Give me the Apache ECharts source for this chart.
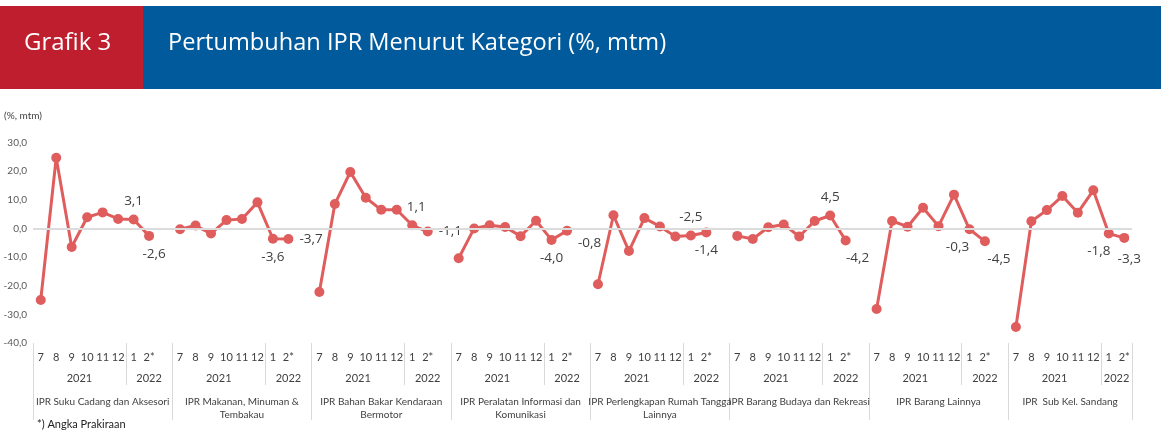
<!DOCTYPE html>
<html>
<head>
<meta charset="utf-8">
<script src="https://cdn.jsdelivr.net/npm/echarts@6/dist/echarts.min.js"></script>
<style>html,body{margin:0;padding:0;background:#fff}#c{width:1171px;height:433px}</style>
</head>
<body>
<div id="c"></div>
<script>
// ---- data ----
const groupNames = [
  'IPR Suku Cadang dan Aksesori',
  'IPR Makanan, Minuman &\nTembakau',
  'IPR Bahan Bakar Kendaraan\nBermotor',
  'IPR Peralatan Informasi dan\nKomunikasi',
  'IPR Perlengkapan Rumah Tangga\nLainnya',
  'IPR Barang Budaya dan Rekreasi',
  'IPR Barang Lainnya',
  'IPR  Sub Kel. Sandang'
];
const monthLabels = ['7','8','9','10','11','12','1','2*'];
const yearLabels = ['2021','2022'];
const g1 = [-25.0, 24.7, -6.5, 3.9, 5.6, 3.3, 3.1, -2.6];
const g2 = [-0.3, 1.0, -1.8, 2.9, 3.3, 9.1, -3.6, -3.7];
const g3 = [-22.2, 8.5, 19.7, 10.7, 6.5, 6.5, 1.1, -1.1];
const g4 = [-10.4, 0.0, 1.1, 0.5, -2.7, 2.7, -4.0, -0.8];
const g5 = [-19.5, 4.6, -7.9, 3.6, 0.7, -2.8, -2.5, -1.4];
const g6 = [-2.6, -3.7, 0.4, 1.4, -2.8, 2.6, 4.5, -4.2];
const g7 = [-28.1, 2.6, 0.6, 7.2, 0.8, 11.8, -0.3, -4.5];
const g8 = [-34.4, 2.5, 6.4, 11.3, 5.5, 13.3, -1.8, -3.3];
const groups = [g1, g2, g3, g4, g5, g6, g7, g8];

// label placement for the two labelled points (Jan, Feb) of each group
const labelPlace = [
  [{position:'top'}, {position:'bottom', offset:[5,0]}],
  [{position:'bottom'}, {position:'right'}],
  [{position:'top', offset:[4,0]}, {position:'right'}],
  [{position:'bottom'}, {position:'right', offset:[0,12]}],
  [{position:'top'}, {position:'bottom'}],
  [{position:'top'}, {position:'bottom', offset:[12,0]}],
  [{position:'bottom', offset:[-12,0]}, {position:'bottom', offset:[14,0]}],
  [{position:'bottom', offset:[-10,0]}, {position:'bottom', offset:[5,3]}]
];

// ---- build ----
const fmt = v => v.toFixed(1).replace('.', ',');
const cats = [];
const seriesData = [];
groups.forEach((g, gi) => {
  g.forEach((v, i) => {
    cats.push(monthLabels[i]);
    const item = {value: v};
    if (i >= 6) {
      const p = labelPlace[gi][i - 6];
      item.label = Object.assign({show: true}, p);
    }
    seriesData.push(item);
  });
  if (gi < groups.length - 1) { cats.push(''); seriesData.push('-'); }
});
const N = cats.length; // 71

const groupTicks = [], groupCenters = {}, yearTicks = [], yearCenters = {};
groups.forEach((g, gi) => {
  const s = gi * 9;
  const e = gi < groups.length - 1 ? s + 9 : N;
  groupTicks.push(s);
  groupCenters[(s + e) / 2] = groupNames[gi];
  yearTicks.push(s + 6);
  yearCenters[s + 3] = yearLabels[0];
  yearCenters[(s + 6 + e) / 2] = yearLabels[1];
});
groupTicks.push(N);

const FONT = '"Open Sans", "Noto Sans", sans-serif';
const NARROW = 'Lato, "Open Sans", sans-serif';
const txt = '#404040';
const gridBox = {left: 33, right: 39, top: 142.5, height: 200.5};

const chart = echarts.init(document.getElementById('c'), null, {renderer: 'canvas'});
chart.setOption({
  animation: false,
  textStyle: {fontFamily: FONT},
  graphic: [
    {type: 'rect', shape: {x: 0, y: 6, width: 143, height: 83}, style: {fill: '#be1e2d'}, silent: true},
    {type: 'rect', shape: {x: 143, y: 6, width: 1018, height: 83}, style: {fill: '#005a9b'}, silent: true}
  ],
  title: [
    {text: 'Grafik 3', left: 24, top: 31, padding: 0, textStyle: {color: '#fff', fontSize: 24, fontWeight: 'normal', fontFamily: FONT}},
    {text: 'Pertumbuhan IPR Menurut Kategori (%, mtm)', left: 168, top: 31, padding: 0, textStyle: {color: '#fff', fontSize: 23.6, fontWeight: 'normal', fontFamily: FONT}},
    {text: '(%, mtm)', left: 4, top: 111, padding: 0, textStyle: {color: txt, fontSize: 10, fontWeight: 'normal', fontFamily: NARROW}},
    {text: '*) Angka Prakiraan', left: 37, top: 419, padding: 0, textStyle: {color: '#222', fontSize: 11, fontWeight: 'normal', fontFamily: NARROW}}
  ],
  grid: [
    Object.assign({}, gridBox),
    Object.assign({}, gridBox),
    Object.assign({}, gridBox)
  ],
  xAxis: [
    {type: 'category', gridIndex: 0, data: cats, boundaryGap: true,
     axisLine: {show: false, onZero: false}, axisTick: {show: false}, splitLine: {show: false},
     axisLabel: {interval: 0, color: txt, fontSize: 11, margin: 9, fontFamily: NARROW}},
    {type: 'value', gridIndex: 1, min: 0, max: N,
     axisLine: {show: false, onZero: false}, splitLine: {show: false},
     axisTick: {show: true, customValues: groupTicks, length: 77, lineStyle: {color: '#d9d9d9', width: 1}},
     axisLabel: {show: true, hideOverlap: false, customValues: Object.keys(groupCenters).map(Number), formatter: v => groupCenters[v] || '',
                 color: txt, fontSize: 10, lineHeight: 13, margin: 52, fontFamily: NARROW}},
    {type: 'value', gridIndex: 2, min: 0, max: N,
     axisLine: {show: false, onZero: false}, splitLine: {show: false},
     axisTick: {show: true, customValues: yearTicks, length: 42, lineStyle: {color: '#d9d9d9', width: 1}},
     axisLabel: {show: true, customValues: Object.keys(yearCenters).map(Number), formatter: v => yearCenters[v] || '',
                 color: txt, fontSize: 11, margin: 30, fontFamily: NARROW}}
  ],
  yAxis: [
    {type: 'value', gridIndex: 0, min: -40, max: 30, interval: 10,
     axisLine: {show: false}, axisTick: {show: false}, splitLine: {show: false},
     axisLabel: {formatter: v => fmt(v), color: '#595959', fontSize: 10, margin: 6, fontFamily: NARROW}},
    {type: 'value', gridIndex: 1, show: false, min: -40, max: 30},
    {type: 'value', gridIndex: 2, show: false, min: -40, max: 30}
  ],
  series: [{
    type: 'line', xAxisIndex: 0, yAxisIndex: 0, data: seriesData,
    connectNulls: false, symbol: 'circle', symbolSize: 10,
    lineStyle: {color: '#e05d5d', width: 3}, itemStyle: {color: '#e05d5d'},
    label: {show: false, formatter: p => fmt(p.value), color: txt, fontSize: 13.5, fontFamily: FONT, distance: 6},
    markLine: {silent: true, symbol: 'none', label: {show: false},
      lineStyle: {color: '#dcdcdc', width: 2, type: 'solid'}, data: [{yAxis: 0}]},
    z: 3
  }]
});
</script>
</body>
</html>
